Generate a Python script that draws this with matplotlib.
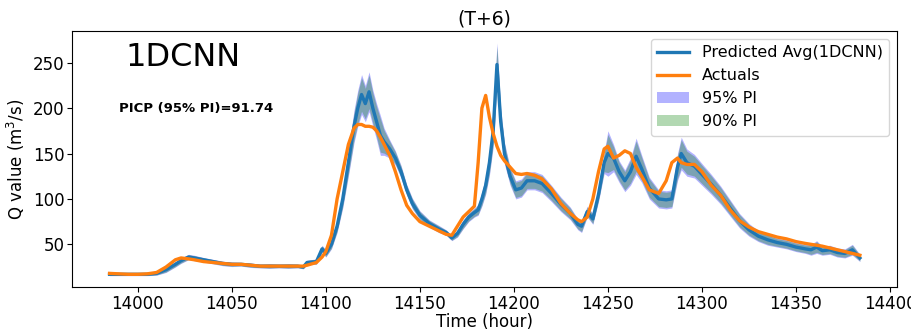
import numpy as np
import matplotlib
matplotlib.use("Agg")
import matplotlib.pyplot as plt

# Horas (eje x)
hours = [13985, 13990, 13995, 14000, 14005, 14010, 14015, 14020, 14023, 14027,
         14030, 14035, 14040, 14045, 14050, 14055, 14060, 14065, 14070, 14075,
         14080, 14085, 14088, 14090, 14095, 14098, 14100, 14103, 14106, 14109,
         14112, 14115, 14117, 14119, 14121, 14123, 14125, 14127, 14129, 14131,
         14134, 14137, 14140, 14143, 14146, 14150, 14155, 14160, 14164, 14167,
         14170, 14173, 14176, 14179, 14181, 14183, 14185, 14187, 14189, 14191,
         14193, 14195, 14198, 14201, 14204, 14207, 14211, 14215, 14220, 14225,
         14230, 14234, 14236, 14239, 14242, 14245, 14248, 14250, 14253, 14256,
         14259, 14262, 14265, 14268, 14272, 14277, 14281, 14284, 14287, 14289,
         14292, 14296, 14300, 14305, 14310, 14315, 14320, 14325, 14330, 14335,
         14340, 14345, 14350, 14355, 14358, 14361, 14364, 14368, 14372, 14376,
         14380, 14384]

# Valores observados
actuals = [18, 17.5, 17, 17, 17.5, 19, 25, 33, 35, 34,
           33, 31, 30, 29, 28, 28, 27, 26, 26, 26,
           26, 26, 26, 27, 30, 36, 42, 60, 100, 130,
           160, 178, 182, 182, 180, 180, 179, 175, 168, 160,
           148, 130, 110, 93, 84, 75, 70, 65, 61, 60,
           70, 80, 86, 92, 140, 200, 214, 190, 172, 158,
           148, 142, 135, 128, 127, 128, 126, 122, 111, 95,
           84, 77, 75, 80, 100, 130, 155, 158, 145, 148,
           153, 150, 135, 125, 110, 106, 120, 140, 145, 140,
           138, 138, 130, 115, 104, 88, 76, 69, 64, 61,
           58, 56, 53, 51, 50, 49, 48, 46, 44, 42,
           40, 38]

# Promedio predicho (1DCNN)
predicted = [17, 17, 17, 17, 17, 18, 22, 28, 32, 36,
             35, 33, 31, 29, 28, 28, 27, 26, 26, 26,
             26, 26, 25, 30, 31, 45, 40, 50, 70, 100,
             140, 180, 200, 215, 205, 218, 200, 185, 170, 163,
             155, 145, 130, 110, 95, 82, 73, 67, 63, 57,
             62, 72, 80, 85, 88, 100, 115, 140, 175, 248,
             185, 150, 125, 110, 112, 120, 120, 117, 106, 94,
             84, 72, 70, 86, 78, 105, 140, 150, 145, 130,
             120, 130, 147, 133, 112, 100, 99, 100, 135, 150,
             140, 136, 127, 116, 104, 90, 76, 66, 59, 55,
             52, 50, 47, 45, 44, 47, 43, 44, 41, 40,
             44, 35]

# Semi-ancho del intervalo de predicción 95%
half95 = [1.5, 1.5, 1.5, 1.5, 1.5, 2, 3, 3, 3, 3,
          3, 2.5, 2.5, 2.5, 2.5, 2, 2.5, 2, 2.5, 2,
          2.5, 2, 2, 2.5, 3, 4, 4, 5, 7, 10,
          15, 18, 20, 22, 20, 22, 20, 20, 22, 15,
          10, 8, 7, 6, 6, 5, 4, 4, 3, 3,
          4, 5, 5, 5, 6, 8, 10, 14, 18, 24,
          15, 12, 10, 10, 10, 10, 10, 10, 9, 8,
          7, 6, 7, 6, 6, 8, 12, 25, 15, 12,
          12, 15, 20, 15, 12, 10, 10, 10, 15, 18,
          15, 13, 12, 11, 10, 9, 8, 7, 6, 6,
          5, 5, 5, 5, 6, 7, 5, 5, 5, 5,
          6, 4]

x = np.array(hours)
pred = np.array(predicted)
h95 = np.array(half95)
h90 = h95 * 1.645 / 1.96   # intervalo 90% a partir del 95%

fig = plt.figure(figsize=(9.12, 3.31), dpi=100)
ax = fig.add_axes([0.079, 0.132, 0.905, 0.774])

ax.plot(x, pred, color="#1f77b4", lw=2.4, label="Predicted Avg(1DCNN)")
ax.plot(x, actuals, color="#ff7f0e", lw=2.4, label="Actuals")
ax.fill_between(x, pred - h95, pred + h95, color="blue", alpha=0.3, lw=0, label="95% PI")
ax.fill_between(x, pred - h90, pred + h90, color="green", alpha=0.3, lw=0, label="90% PI")

ax.set_title("(T+6)", fontsize=13.5, pad=5)
ax.set_xlabel("Time (hour)", fontsize=12, labelpad=0)
ax.set_ylabel("Q value (m$^3$/s)", fontsize=12)
ax.tick_params(labelsize=12, pad=2)
ax.set_yticks([50, 100, 150, 200, 250])

ax.text(0.065, 0.865, "1DCNN", transform=ax.transAxes, fontsize=23)
ax.text(0.057, 0.683, "PICP (95% PI)=91.74", transform=ax.transAxes,
        fontsize=9.5, fontweight="bold")

ax.legend(loc="upper right", fontsize=11.5)

fig.savefig("out.png", dpi=100)
